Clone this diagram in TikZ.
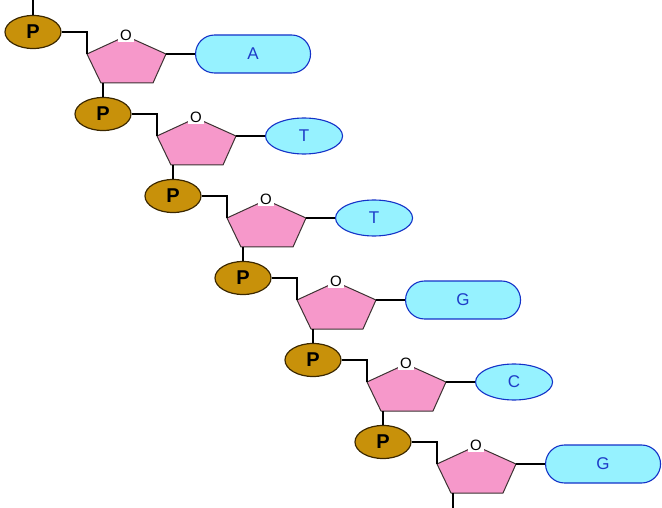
\documentclass[tikz,border=0pt]{standalone}
\usepackage{fontspec}
\setmainfont{Liberation Sans}
\usetikzlibrary{shapes.geometric,shapes.misc}
\definecolor{phosfill}{RGB}{200,145,10}
\definecolor{phosline}{RGB}{60,40,0}
\definecolor{sugarfill}{RGB}{246,152,202}
\definecolor{sugarline}{RGB}{60,50,50}
\definecolor{basefill}{RGB}{150,242,255}
\definecolor{baseline}{RGB}{20,50,200}
\definecolor{basetext}{RGB}{30,60,200}

\begin{document}
\begin{tikzpicture}[x=1pt,y=-1pt]
\tikzstyle{phos}=[ellipse, draw=phosline, line width=1.2pt, fill=phosfill,
  minimum width=56pt, minimum height=33pt, inner sep=0pt,
  font=\fontsize{20}{20}\selectfont\bfseries]
\tikzstyle{sugar}=[draw=sugarline, line width=1pt, fill=sugarfill, line join=round]
\tikzstyle{oxy}=[fill=white, inner sep=2pt, font=\fontsize{15}{15}\selectfont]
\tikzstyle{base}=[draw=baseline, line width=1.1pt, fill=basefill, text=basetext,
  inner sep=0pt, anchor=west, font=\fontsize{17}{17}\selectfont]
\tikzstyle{wide}=[base, rounded rectangle, minimum width=115pt, minimum height=38pt]
\tikzstyle{narrow}=[base, ellipse, minimum width=77pt, minimum height=36pt]
\tikzstyle{bond}=[line width=1.2pt]
\useasboundingbox (0,0) rectangle (662,508);
\foreach \b/\k [count=\i, evaluate=\i as \x using 33+70*(\i-1),
    evaluate=\i as \y using 32+82*(\i-1)] in {A/wide,T/narrow,T/narrow,G/wide,C/narrow,G/wide} {
  \coordinate (s\i-t) at (\x+93,\y+4);
  \coordinate (s\i-l) at (\x+54,\y+22);
  \coordinate (s\i-bl) at (\x+68,\y+51);
  \coordinate (s\i-br) at (\x+120,\y+51);
  \coordinate (s\i-r) at (\x+133,\y+22);
  \draw[sugar] (s\i-t) -- (s\i-l) -- (s\i-bl) -- (s\i-br) -- (s\i-r) -- cycle;
  \node[oxy] (o\i) at (\x+93,\y+3) {O};
  \node[phos] (p\i) at (\x,\y) {P};
  \node[\k] (b\i) at (\x+162,\y+22) {\b};
  \draw[bond] (p\i.east) -| (s\i-l);
  \draw[bond] (s\i-r) -- (b\i.west);
}
\foreach \i [count=\j from 2] in {1,...,5}
  \draw[bond] (p\j.north) -- (p\j.north |- s\i-bl);
\coordinate (top) at (33,0);
\coordinate (bot) at (453,508);
\draw[bond] (p1.north) -- (top);
\draw[bond] (bot |- s6-bl) -- (bot);
\end{tikzpicture}
\end{document}
